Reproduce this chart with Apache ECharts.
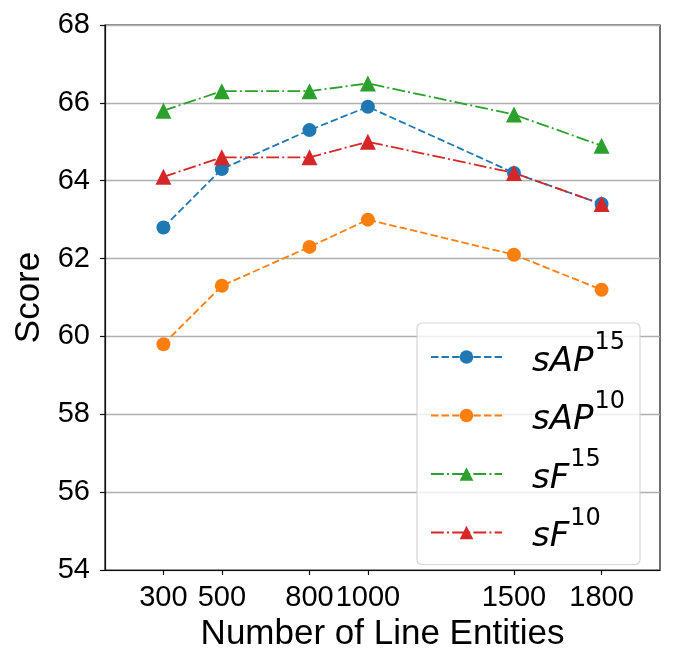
<!DOCTYPE html>
<html>
<head>
<meta charset="utf-8">
<script src="https://cdn.jsdelivr.net/npm/echarts@6/dist/echarts.min.js"></script>
<style>html,body{margin:0;padding:0;background:#fff}#c{width:681px;height:667px}</style>
</head>
<body>
<div id="c"></div>
<script>
var xValues = [300, 500, 800, 1000, 1500, 1800];
var sAP15 = [62.8, 64.3, 65.3, 65.9, 64.2, 63.4];
var sAP10 = [59.8, 61.3, 62.3, 63.0, 62.1, 61.2];
var sF15 = [65.8, 66.3, 66.3, 66.5, 65.7, 64.9];
var sF10 = [64.1, 64.6, 64.6, 65.0, 64.2, 63.4];
var yTicks = [54, 56, 58, 60, 62, 64, 66, 68];
var seriesNames = ['sAP15', 'sAP10', 'sF15', 'sF10'];
var legendBase = {sAP15: ['sAP', '15'], sAP10: ['sAP', '10'], sF15: ['sF', '15'], sF10: ['sF', '10']};

function pairs(arr) { return xValues.map(function (x, i) { return [x, arr[i]]; }); }
var dashed = [7.4, 3.2];
var dashDot = [12.8, 3.2, 2, 3.2];
function mk(name, data, color, symbol, size, dash) {
  return {
    name: name, type: 'line', data: pairs(data),
    symbol: symbol, symbolSize: size,
    itemStyle: {color: color},
    lineStyle: {color: color, width: 1.8, type: dash},
    emphasis: {disabled: true}, animation: false
  };
}
var chart = echarts.init(document.getElementById('c'));
chart.setOption({
  animation: false,
  grid: {left: 105, right: 21, top: 25, bottom: 97, show: true, borderColor: '#111', borderWidth: 1.2, backgroundColor: 'transparent', outerBoundsMode: 'none'},
  xAxis: {
    type: 'value', min: 100, max: 2000,
    name: 'Number of Line Entities', nameLocation: 'middle', nameGap: 45,
    nameTextStyle: {fontFamily: 'Liberation Sans', fontSize: 35, color: '#000'},
    axisLine: {show: true, lineStyle: {color: '#111', width: 1.2}},
    axisTick: {show: true, inside: false, length: 5, customValues: xValues, lineStyle: {color: '#111', width: 1.2}},
    axisLabel: {customValues: xValues, margin: 13, fontFamily: 'Liberation Sans', fontSize: 29, color: '#000', hideOverlap: false,
      formatter: function (v) { return String(v); }},
    splitLine: {show: false}
  },
  yAxis: {
    type: 'value', min: 54, max: 68, interval: 2,
    name: 'Score', nameLocation: 'middle', nameGap: 57,
    nameTextStyle: {fontFamily: 'Liberation Sans', fontSize: 35, color: '#000'},
    axisLine: {show: true, lineStyle: {color: '#111', width: 1.2}},
    axisTick: {show: true, inside: false, length: 5, lineStyle: {color: '#111', width: 1.2}},
    axisLabel: {margin: 15, fontFamily: 'Liberation Sans', fontSize: 29, color: '#000', customValues: yTicks},
    splitLine: {show: true, lineStyle: {color: '#b0b0b0', width: 1.3}}
  },
  legend: {
    orient: 'vertical', left: 417, top: 323,
    data: seriesNames,
    itemWidth: 71, itemHeight: 17, itemGap: 10.5,
    padding: [8, 15, 10, 13],
    backgroundColor: 'rgba(255,255,255,0.8)',
    borderColor: 'rgba(204,204,204,0.8)', borderWidth: 1.2, borderRadius: 5,
    selectedMode: false,
    formatter: function (name) { var p = legendBase[name]; return '{sp|}{m|' + p[0] + '}{s|' + p[1] + '}'; },
    textStyle: {
      rich: {
        sp: {width: 25, lineHeight: 44},
        m: {fontFamily: 'DejaVu Sans', fontStyle: 'italic', fontSize: 34, color: '#000', lineHeight: 44, verticalAlign: 'bottom'},
        s: {fontFamily: 'DejaVu Sans', fontSize: 24, color: '#000', lineHeight: 20, verticalAlign: 'bottom', padding: [0, 0, 24, 1]}
      }
    }
  },
  series: [
    mk('sAP15', sAP15, '#1f77b4', 'circle', 14, dashed),
    mk('sAP10', sAP10, '#ff7f0e', 'circle', 14, dashed),
    mk('sF15', sF15, '#2ca02c', 'triangle', 16, dashDot),
    mk('sF10', sF10, '#d62728', 'triangle', 16, dashDot)
  ]
});
</script>
</body>
</html>
